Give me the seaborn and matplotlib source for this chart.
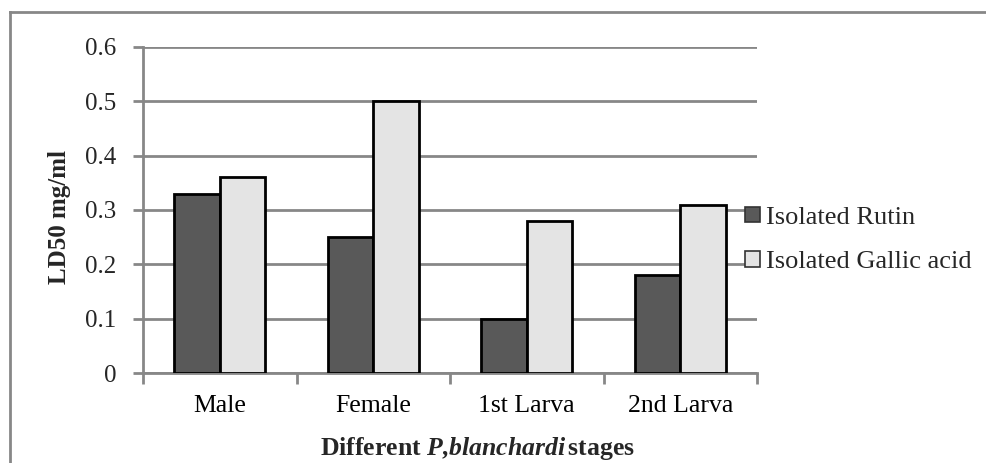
import matplotlib
matplotlib.use("Agg")
import matplotlib.pyplot as plt
from matplotlib.lines import Line2D
from matplotlib.patches import Patch
import seaborn as sns
import pandas as pd

# LD50 values per developmental stage
stages = ["Male", "Female", "1st Larva", "2nd Larva"]
rutin = [0.33, 0.25, 0.10, 0.18]
gallic = [0.36, 0.50, 0.28, 0.31]
series_names = ["Isolated Rutin", "Isolated Gallic acid"]
y_ticks = [0, 0.1, 0.2, 0.3, 0.4, 0.5, 0.6]
y_tick_labels = ["0", "0.1", "0.2", "0.3", "0.4", "0.5", "0.6"]

df = pd.DataFrame({
    "stage": stages * 2,
    "value": rutin + gallic,
    "series": [series_names[0]] * len(stages) + [series_names[1]] * len(stages),
})

sns.set_theme(style="white")
plt.rcParams["font.family"] = ["Liberation Serif", "DejaVu Serif"]
plt.rcParams["mathtext.fontset"] = "custom"
plt.rcParams["mathtext.rm"] = "Liberation Serif"
plt.rcParams["mathtext.it"] = "Liberation Serif:italic"
plt.rcParams["mathtext.bf"] = "Liberation Serif:bold"
plt.rcParams["mathtext.bfit"] = "Liberation Serif:bold:italic"

W, H = 987, 463
fig = plt.figure(figsize=(W / 100, H / 100), dpi=100)
fig.patch.set_facecolor("white")

grey = "#878787"
dark = "#595959"
light = "#e4e4e4"

# outer chart-area frame (left and top edges)
fig.add_artist(Line2D([10 / W, 10 / W], [0, 1 - 12 / H], transform=fig.transFigure,
                      color=grey, lw=2, solid_capstyle="projecting"))
fig.add_artist(Line2D([10 / W, 1], [1 - 12 / H, 1 - 12 / H], transform=fig.transFigure,
                      color=grey, lw=2, solid_capstyle="projecting"))

ax_left, ax_right, ax_top, ax_bottom = 143, 757, 47, 373
ax = fig.add_axes([ax_left / W, 1 - ax_bottom / H,
                   (ax_right - ax_left) / W, (ax_bottom - ax_top) / H])

sns.barplot(data=df, x="stage", y="value", hue="series", order=stages,
            hue_order=series_names, palette=[dark, light], width=0.59, gap=0,
            edgecolor="black", linewidth=2, saturation=1, legend=False,
            errorbar=None, ax=ax, zorder=3)

ax.set_ylim(0, 0.6)
ax.set_xlim(-0.5, len(stages) - 0.5)
ax.set_yticks(y_ticks)
ax.set_yticklabels(y_tick_labels, fontsize=18)
ax.set_xticks(range(len(stages)))
ax.set_xticklabels(stages, fontsize=18.5)
ax.set_xticks([i - 0.5 for i in range(len(stages) + 1)], minor=True)
ax.tick_params(axis="x", which="major", length=0, pad=16, colors="black")
ax.tick_params(axis="x", which="minor", length=8, width=2, color=grey, direction="out", bottom=True)
ax.tick_params(axis="y", length=7, width=2, color=grey, direction="out", pad=12, left=True)

ax.yaxis.grid(True, color=grey, linewidth=2, zorder=0)
ax.set_axisbelow(True)
for side in ["top", "right"]:
    ax.spines[side].set_visible(False)
for side in ["left", "bottom"]:
    ax.spines[side].set_color(grey)
    ax.spines[side].set_linewidth(2)
ax.set_xlabel("")
ax.set_ylabel("")

fig.text(60 / W, 1 - 217 / H, "LD50 mg/ml", rotation=90, fontsize=18,
         fontweight="bold", ha="center", va="center")
fig.text(477 / W, 1 - 449 / H,
         r"$\mathbf{Different}$ $\mathbfit{P{,}blanchardi}$$\,\mathbf{stages}$",
         fontsize=18.5, ha="center", va="center")

handles = [Patch(facecolor=dark, edgecolor="#333333", linewidth=1.2),
           Patch(facecolor=light, edgecolor="#333333", linewidth=1.2)]
fig.legend(handles, series_names, loc="center left",
           bbox_to_anchor=(745 / W, 1 - 240 / H), frameon=False, fontsize=19,
           handlelength=0.55, handleheight=0.55, handletextpad=0.25, labelspacing=0.85,
           borderaxespad=0, borderpad=0)

fig.savefig("out.png", dpi=100, facecolor="white")
